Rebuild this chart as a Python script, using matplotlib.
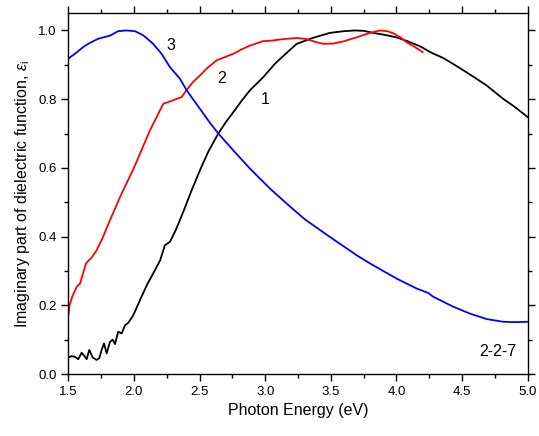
import matplotlib
matplotlib.use("Agg")
import matplotlib.pyplot as plt
from matplotlib.ticker import MultipleLocator

plt.rcParams['font.family'] = ['Liberation Sans', 'DejaVu Sans']
plt.rcParams['mathtext.fontset'] = 'custom'
plt.rcParams['mathtext.rm'] = 'Liberation Sans'
plt.rcParams['mathtext.it'] = 'Liberation Sans:italic'

# Curve 1 (black)
x1 = [1.5, 1.526, 1.551, 1.576, 1.602, 1.627, 1.64, 1.66, 1.686, 1.716, 1.736, 1.754,
      1.772, 1.792, 1.818, 1.838, 1.856, 1.88, 1.907, 1.932, 1.957, 1.995, 2.046,
      2.1, 2.15, 2.2, 2.236, 2.275, 2.32, 2.376, 2.44, 2.503, 2.57, 2.643, 2.70, 2.757,
      2.82, 2.884, 2.985, 3.074, 3.15, 3.24, 3.36, 3.493, 3.6, 3.684, 3.75, 3.823,
      3.9, 4.0, 4.09, 4.18, 4.268, 4.356, 4.43, 4.51, 4.6, 4.687, 4.813, 4.9, 5.0]
y1 = [0.048, 0.052, 0.05, 0.043, 0.062, 0.05, 0.043, 0.07, 0.048, 0.041, 0.046, 0.07,
      0.089, 0.06, 0.094, 0.1, 0.087, 0.123, 0.118, 0.142, 0.149, 0.171, 0.215,
      0.26, 0.295, 0.331, 0.375, 0.385, 0.42, 0.472, 0.535, 0.593, 0.65, 0.70, 0.733,
      0.762, 0.795, 0.826, 0.864, 0.903, 0.93, 0.961, 0.978, 0.993, 0.998, 1.0, 0.999,
      0.993, 0.988, 0.98, 0.968, 0.954, 0.935, 0.92, 0.903, 0.884, 0.862, 0.84, 0.801,
      0.778, 0.748]

# Curve 2 (red)
x2 = [1.5, 1.51, 1.53, 1.564, 1.589, 1.61, 1.635, 1.68, 1.716, 1.76, 1.818, 1.9,
      2.0, 2.122, 2.224, 2.25, 2.3, 2.364, 2.40, 2.45, 2.503, 2.554, 2.63, 2.69, 2.757,
      2.82, 2.884, 2.985, 3.036, 3.14, 3.24, 3.316, 3.38, 3.442, 3.52, 3.594, 3.696,
      3.79, 3.874, 3.93, 3.975, 4.03, 4.077, 4.14, 4.2]
y2 = [0.171, 0.2, 0.225, 0.254, 0.263, 0.29, 0.322, 0.34, 0.36, 0.395, 0.448, 0.52,
      0.6, 0.709, 0.787, 0.79, 0.797, 0.806, 0.826, 0.85, 0.869, 0.889, 0.913, 0.922,
      0.932, 0.945, 0.956, 0.969, 0.97, 0.975, 0.978, 0.975, 0.967, 0.961, 0.962,
      0.968, 0.98, 0.992, 1.0, 0.998, 0.992, 0.98, 0.966, 0.952, 0.937]

# Curve 3 (blue)
x3 = [1.5, 1.56, 1.614, 1.67, 1.729, 1.818, 1.88, 1.94, 2.008, 2.071, 2.147, 2.211,
      2.275, 2.35, 2.40, 2.45, 2.503, 2.57, 2.643, 2.757, 2.884, 3.036, 3.17, 3.303,
      3.493, 3.696, 3.798, 4.0, 4.153, 4.242, 4.28, 4.432, 4.559, 4.687, 4.813, 4.9,
      5.0]
y3 = [0.918, 0.935, 0.952, 0.965, 0.976, 0.985, 0.998, 1.0, 0.998, 0.986, 0.961, 0.932,
      0.893, 0.86, 0.827, 0.8, 0.772, 0.736, 0.7, 0.651, 0.598, 0.54, 0.494, 0.45,
      0.399, 0.346, 0.322, 0.278, 0.249, 0.236, 0.225, 0.196, 0.176, 0.16, 0.152, 0.151,
      0.152]

curve_labels = ["1", "2", "3"]
sample_label = "2-2-7"

fig = plt.figure(figsize=(5.39, 4.36), dpi=100)
ax = fig.add_axes([0.1267, 0.1422, 0.979 - 0.1267, 0.9695 - 0.1422])

ax.plot(x1, y1, color='black', lw=1.3)
ax.plot(x2, y2, color='#ff0000', lw=1.3)
ax.plot(x3, y3, color='#0000ff', lw=1.3)

ax.set_xlim(1.5, 5.0)
ax.set_ylim(0.0, 1.05)
ax.xaxis.set_major_locator(MultipleLocator(0.5))
ax.xaxis.set_minor_locator(MultipleLocator(0.25))
ax.yaxis.set_major_locator(MultipleLocator(0.2))
ax.yaxis.set_minor_locator(MultipleLocator(0.1))
ax.tick_params(which='both', direction='out', top=True, right=True,
               labeltop=False, labelright=False, width=1.0, labelsize=9.5)
ax.tick_params(which='major', length=5)
ax.tick_params(which='minor', length=3)
for s in ax.spines.values():
    s.set_linewidth(1.0)

ax.set_xlabel("Photon Energy (eV)", fontsize=11.5)
ax.set_ylabel(r"Imaginary part of dielectric function, $\varepsilon_{\rm i}$", fontsize=11.5)

ax.text(2.28, 0.955, curve_labels[2], fontsize=11.5, ha='center', va='center')
ax.text(2.67, 0.86, curve_labels[1], fontsize=11.5, ha='center', va='center')
ax.text(3.0, 0.80, curve_labels[0], fontsize=11.5, ha='center', va='center')
ax.text(4.77, 0.065, sample_label, fontsize=11.5, ha='center', va='center')

fig.savefig("out.png", dpi=100)
